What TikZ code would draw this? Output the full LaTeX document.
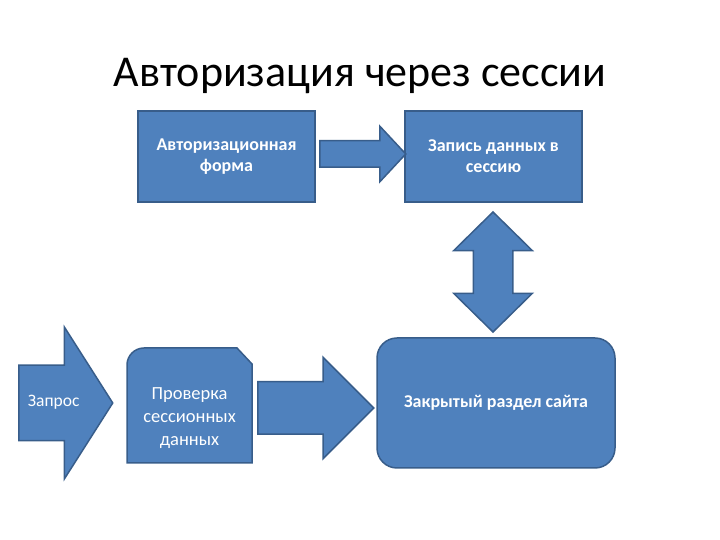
\documentclass[tikz,border=0pt]{standalone}
\usepackage{fontspec}
\setmainfont{Carlito}
\usetikzlibrary{shapes.arrows,backgrounds}
\definecolor{slideblue}{HTML}{4F81BD}
\definecolor{slideedge}{HTML}{385D8A}

\begin{document}
\begin{tikzpicture}[x=1pt, y=1pt,
  every node/.style = {text=white, align=center},
  boxline/.style = {draw=slideedge, fill=slideblue, line width=1.5pt},
  boxnode/.style = {boxline, shape=rectangle, inner sep=0pt,
    font=\bfseries\fontsize{18}{21}\selectfont},
  blockarr/.style = {boxline, single arrow, inner xsep=0pt, anchor=tail},
  dblarr/.style = {boxline, double arrow}]
  \useasboundingbox (0,0) rectangle (720,540);
  \node[text=black, anchor=base, font=\fontsize{44}{50}\selectfont]
    (title) at (360,453) {Авторизация через сессии};
  % top row
  \node[boxnode, minimum width=177, minimum height=91]
    (form) at (226.5,383.5) {Авторизационная\\форма};
  \node[boxnode, minimum width=177, minimum height=91]
    (store) at (493.5,383.5) {Запись данных в\\сессию};
  \node[blockarr, inner ysep=12.5pt, minimum height=86,
    single arrow head extend=14.5pt, single arrow tip angle=94]
    (toStore) at (319,386) {};
  \node[dblarr, shape border rotate=90, inner sep=19pt, minimum height=120,
    double arrow head extend=19.5pt, double arrow tip angle=91]
    (link) at (493,268) {};
  % bottom row
  \node[boxnode, rounded corners=20pt, minimum width=238, minimum height=130]
    (closed) at (496,137) {Закрытый раздел сайта};
  \node[blockarr, inner xsep=8pt, inner ysep=33pt, text height=8pt,
    text depth=-2pt, minimum height=94,
    single arrow head extend=38pt, single arrow tip angle=115,
    font=\fontsize{17.5}{20}\selectfont]
    (request) at (18,137) {Запрос};
  \node[font=\fontsize{18.5}{23}\selectfont]
    (check) at (189.5,122) {Проверка\\сессионных\\данных};
  \begin{pgfonlayer}{background}
    \draw[boxline] ([shift={(-62.5,-45)}]check.center)
      -- ([shift={(-62.5,53)}]check.center)
      arc[start angle=180, end angle=90, radius=17pt]
      -- ([shift={(47.5,70)}]check.center)
      -- ([shift={(62.5,54)}]check.center)
      -- ([shift={(62.5,-45)}]check.center) -- cycle;
  \end{pgfonlayer}
  \node[blockarr, inner ysep=25.5pt, minimum height=116,
    single arrow head extend=24.5pt, single arrow tip angle=90]
    (toClosed) at (257,132) {};
\end{tikzpicture}
\end{document}
